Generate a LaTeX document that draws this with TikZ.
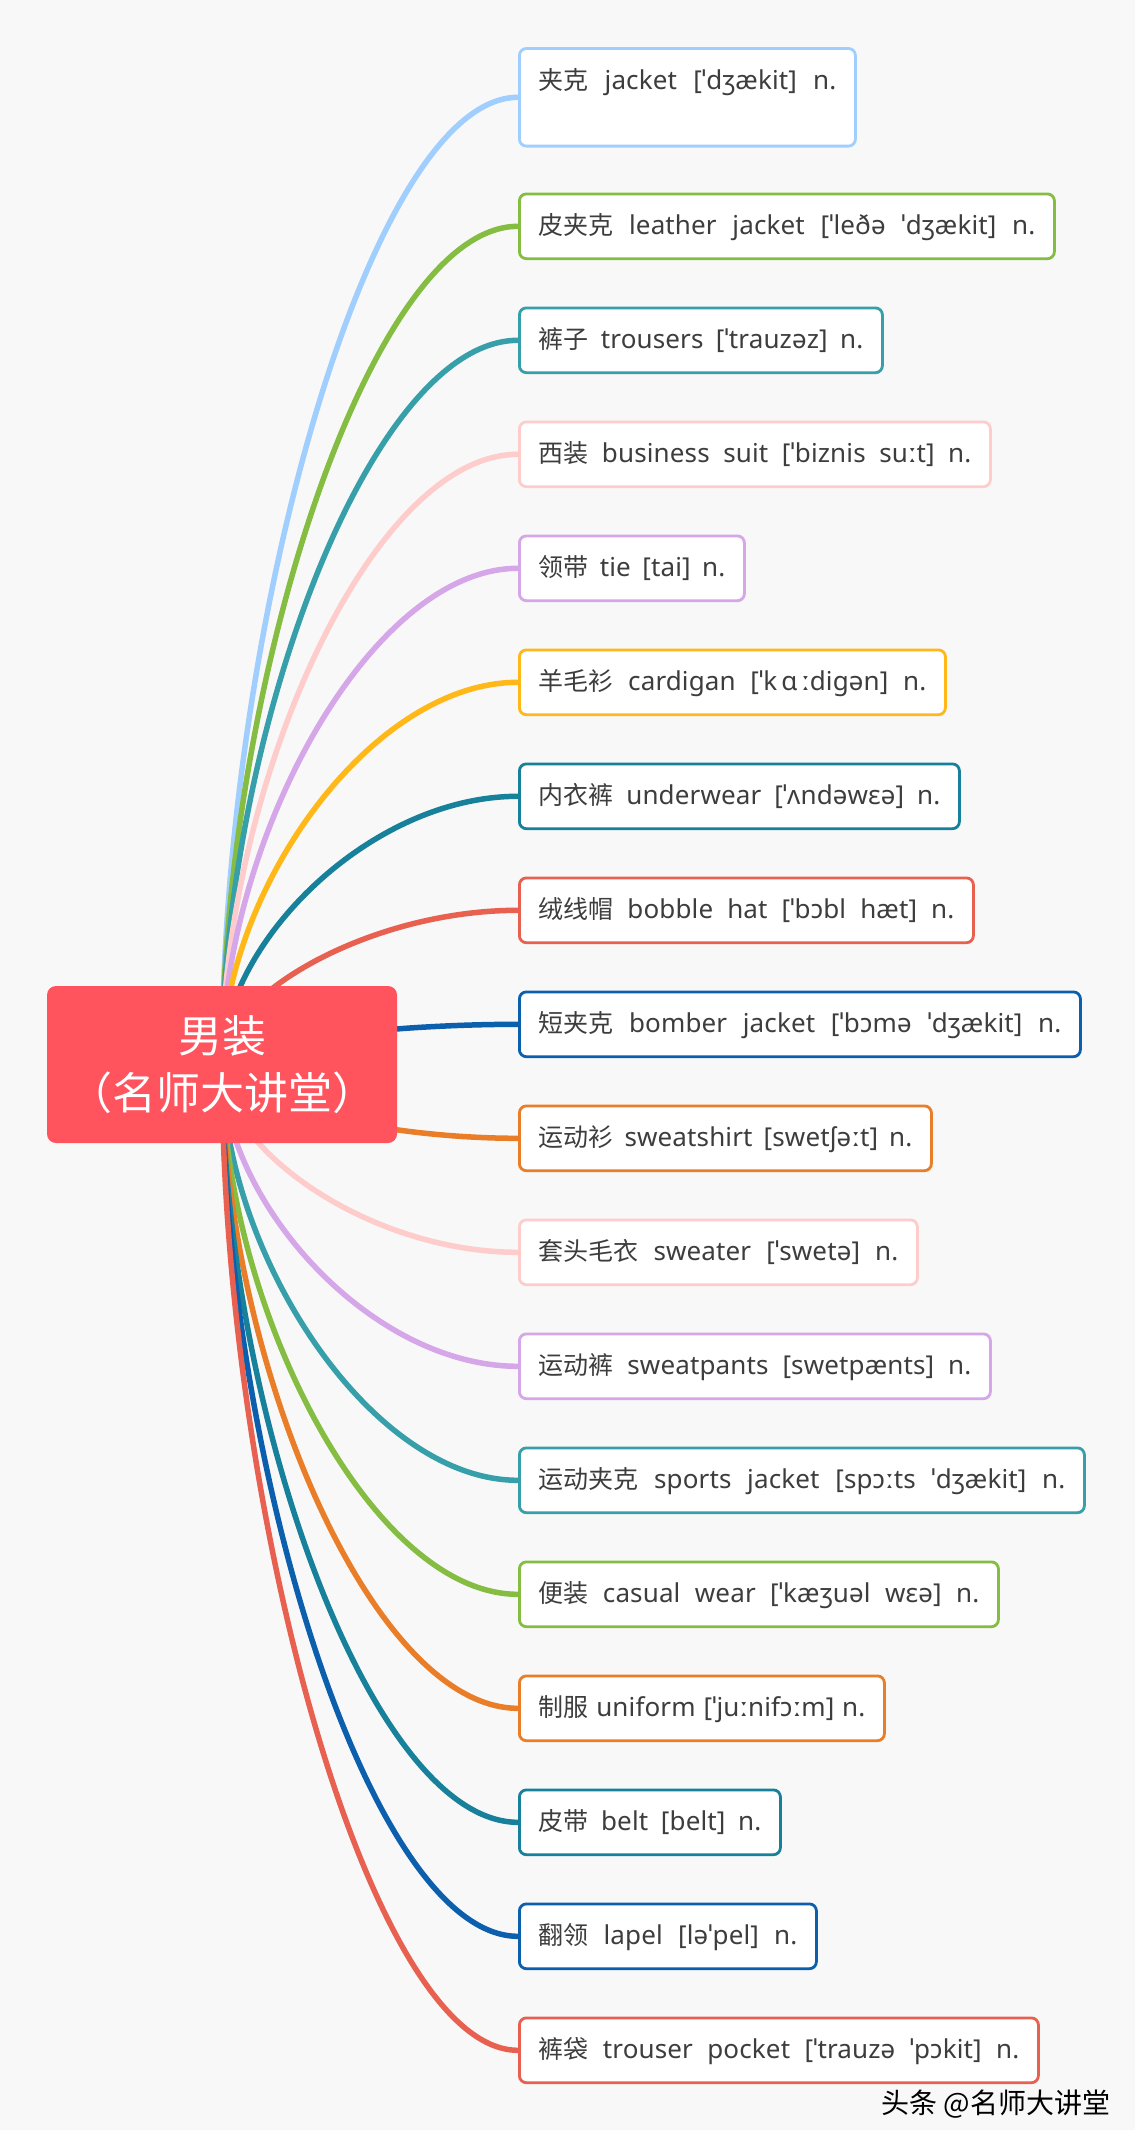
\documentclass[tikz,border=0pt]{standalone}
\usepackage{fontspec}
\setmainfont[LetterSpace=0.5]{Noto Sans}
\newfontfamily\cjkf{Noto Sans CJK SC}
\usetikzlibrary{calc}
\definecolor{bgc}{HTML}{F8F8F8}
\definecolor{txt}{HTML}{3D3D3D}
\definecolor{rootc}{HTML}{FF535D}
\definecolor{c1}{HTML}{9FCEFF}
\definecolor{c2}{HTML}{84BD41}
\definecolor{c3}{HTML}{379FAA}
\definecolor{c4}{HTML}{FFCCCC}
\definecolor{c5}{HTML}{D5A6E8}
\definecolor{c6}{HTML}{FFB817}
\definecolor{c7}{HTML}{17809A}
\definecolor{c8}{HTML}{E8604F}
\definecolor{c9}{HTML}{0B5FAD}
\definecolor{c10}{HTML}{EA7D27}
\pgfdeclarelayer{back}
\pgfdeclarelayer{conns}
\pgfsetlayers{back,conns,main}
\newcommand\E[3]{\makebox[#1pt][s]{{\cjkf\fontsize{25}{29}\selectfont #2} #3}}
\tikzset{
  leaf/.style={draw=#1, fill=white, line width=2.8pt, rounded corners=7pt,
    inner xsep=19pt, inner ysep=0pt, text height=40.8pt, text depth=24pt,
    anchor=west, text=txt, font=\fontsize{26}{30}\selectfont},
  conn/.style={draw=#1, line width=5.5pt},
  rootbox/.style={fill=rootc, rounded corners=9pt, minimum width=350pt,
    minimum height=157pt, inner sep=0pt, align=center, text=white,
    font=\cjkf\fontsize{44}{57}\selectfont},
  wmark/.style={font=\cjkf\fontsize{28}{30}\selectfont, text=black, inner sep=0pt}
}
\begin{document}
\begin{tikzpicture}[x=1pt,y=-1pt]
\useasboundingbox (0,0) rectangle (1135,2144);
\begin{pgfonlayer}{back}
  \fill[white] (0,0) rectangle (1135,2144);
  \fill[bgc] (0,0) rectangle (1135,2130);
\end{pgfonlayer}

\node[rootbox] (root) at (222,1064.5) {男装\\（名师大讲堂）};

\node[leaf=c1, anchor=north west, text depth=56.8pt] (b1) at (518,47.1) {\E{298}{夹克}{jacket [ˈdʒækit] n.}};
\node[leaf=c2]  (b2)  at (518,226.3)  {\E{497}{皮夹克}{leather jacket [ˈleðə ˈdʒækit] n.}};
\node[leaf=c3]  (b3)  at (518,340.3)  {\E{325}{裤子}{trousers [ˈtrauzəz] n.}};
\node[leaf=c4]  (b4)  at (518,454.3)  {\E{433}{西装}{business suit [ˈbiznis suːt] n.}};
\node[leaf=c5]  (b5)  at (518,568.3)  {\E{187}{领带}{tie [tai] n.}};
\node[leaf=c6]  (b6)  at (518,682.3)  {\E{388}{羊毛衫}{cardigan [ˈk\kern4ptɑ\kern4ptːdigən] n.}};
\node[leaf=c7]  (b7)  at (518,796.3)  {\E{402}{内衣裤}{underwear [ˈʌndəwɛə] n.}};
\node[leaf=c8]  (b8)  at (518,910.3)  {\E{416}{绒线帽}{bobble hat [ˈbɔbl hæt] n.}};
\node[leaf=c9]  (b9)  at (518,1024.3) {\E{523}{短夹克}{bomber jacket [ˈbɔmə ˈdʒækit] n.}};
\node[leaf=c10] (b10) at (518,1138.3) {\E{374}{运动衫}{sweatshirt [swetʃəːt] n.}};
\node[leaf=c4]  (b11) at (518,1252.3) {\E{360}{套头毛衣}{sweater [ˈswetə] n.}};
\node[leaf=c5]  (b12) at (518,1366.3) {\E{433}{运动裤}{sweatpants [swetpænts] n.}};
\node[leaf=c3]  (b13) at (518,1480.3) {\E{527}{运动夹克}{sports jacket [spɔːts ˈdʒækit] n.}};
\node[leaf=c2]  (b14) at (518,1594.3) {\E{441}{便装}{casual wear [ˈkæʒuəl wɛə] n.}};
\node[leaf=c10] (b15) at (518,1708.3) {\E{327}{制服}{uniform [ˈjuːnifɔːm] n.}};
\node[leaf=c7]  (b16) at (518,1822.3) {\E{223}{皮带}{belt [belt] n.}};
\node[leaf=c9]  (b17) at (518,1936.3) {\E{259}{翻领}{lapel [ləˈpel] n.}};
\node[leaf=c8]  (b18) at (518,2050.3) {\E{481}{裤袋}{trouser pocket [ˈtrauzə ˈpɔkit] n.}};

\node[wmark] (wm) at (996,2104) {头条 @名师大讲堂};

\begin{pgfonlayer}{conns}
\foreach \i/\c in {1/c1,2/c2,3/c3,4/c4,5/c5,6/c6,7/c7,8/c8,9/c9,10/c10,11/c4,12/c5,13/c3,14/c2,15/c10,16/c7,17/c9,18/c8}{
  \draw[conn=\c] (root.center)
    .. controls ($(root.center)!0.45!(root.center |- b\i.west)$)
    and ($(b\i.west)!0.5!(root.center |- b\i.west)$) .. (b\i.west);
}
\end{pgfonlayer}
\end{tikzpicture}
\end{document}
